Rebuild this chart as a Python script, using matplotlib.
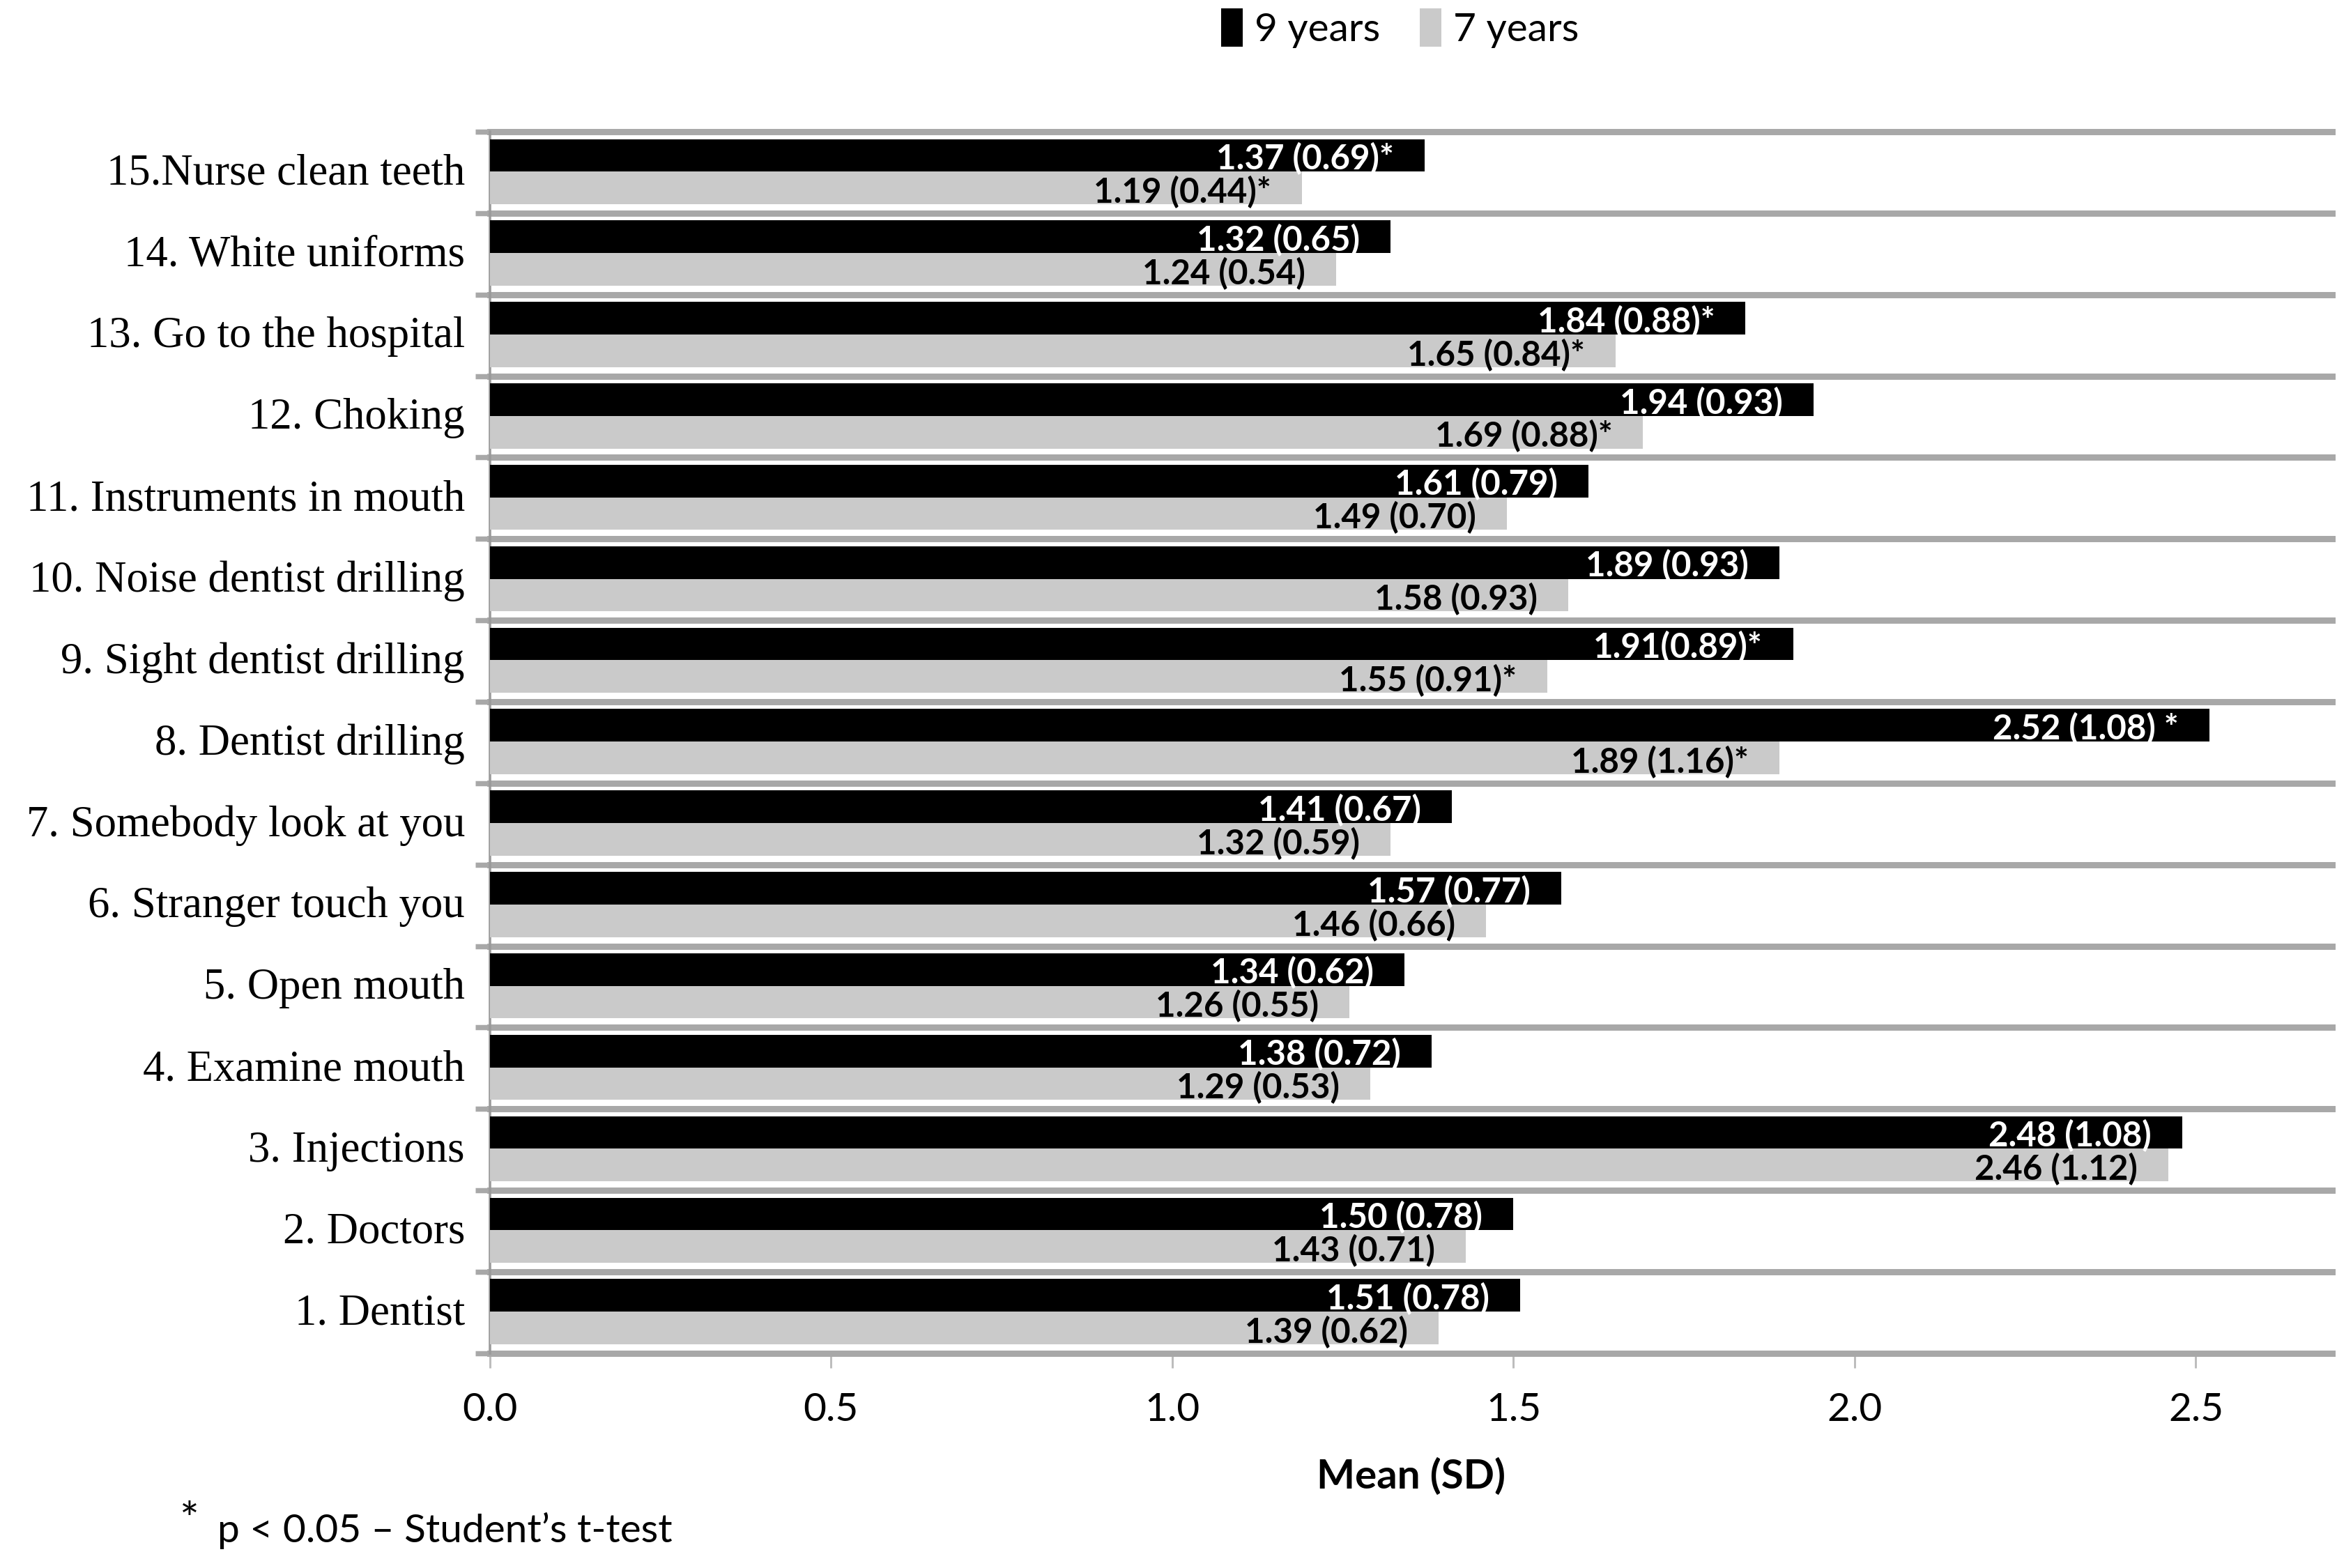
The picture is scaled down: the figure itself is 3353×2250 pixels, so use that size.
import numpy as np
import matplotlib
matplotlib.use("Agg")
import matplotlib.pyplot as plt
from matplotlib.patches import Patch

# data, bottom (1) to top (15)
items = ["1. Dentist", "2. Doctors", "3. Injections", "4. Examine mouth", "5. Open mouth",
         "6. Stranger touch you", "7. Somebody look at you", "8. Dentist drilling",
         "9. Sight dentist drilling", "10. Noise dentist drilling", "11. Instruments in mouth",
         "12. Choking", "13. Go to the hospital", "14. White uniforms", "15.Nurse clean teeth"]
mean_9 = [1.51, 1.50, 2.48, 1.38, 1.34, 1.57, 1.41, 2.52, 1.91, 1.89, 1.61, 1.94, 1.84, 1.32, 1.37]
mean_7 = [1.39, 1.43, 2.46, 1.29, 1.26, 1.46, 1.32, 1.89, 1.55, 1.58, 1.49, 1.69, 1.65, 1.24, 1.19]
label_9 = ["1.51 (0.78)", "1.50 (0.78)", "2.48 (1.08)", "1.38 (0.72)", "1.34 (0.62)",
           "1.57 (0.77)", "1.41 (0.67)", "2.52 (1.08) *", "1.91(0.89)*", "1.89 (0.93)",
           "1.61 (0.79)", "1.94 (0.93)", "1.84 (0.88)*", "1.32 (0.65)", "1.37 (0.69)*"]
label_7 = ["1.39 (0.62)", "1.43 (0.71)", "2.46 (1.12)", "1.29 (0.53)", "1.26 (0.55)",
           "1.46 (0.66)", "1.32 (0.59)", "1.89 (1.16)*", "1.55 (0.91)*", "1.58 (0.93)",
           "1.49 (0.70)", "1.69 (0.88)*", "1.65 (0.84)*", "1.24 (0.54)", "1.19 (0.44)*"]
xticks = [0.0, 0.5, 1.0, 1.5, 2.0, 2.5]

BLACK = "#000000"
LIGHT = "#cacaca"
GRID = "#a8a8a8"

fig = plt.figure(figsize=(3353 / 215, 2250 / 215), dpi=215)
ax = fig.add_axes([0.2096, 0.137, 0.7884, 0.779])

y = np.arange(len(items))
h = 0.4
ax.barh(y + 0.21, mean_9, height=h, color=BLACK, zorder=3)
ax.barh(y - 0.19, mean_7, height=h, color=LIGHT, zorder=3)

# value labels inside the bars
for i in range(len(items)):
    ax.text(mean_9[i] - 0.045, y[i] + 0.17, label_9[i], ha="right", va="center",
            color="white", fontsize=16.5, fontweight="bold", family="Lato", zorder=4)
    ax.text(mean_7[i] - 0.045, y[i] - 0.24, label_7[i], ha="right", va="center",
            color="black", fontsize=16.5, fontweight="bold", family="Lato", zorder=4)

ax.set_xlim(0, 2.7)
ax.set_ylim(-0.5, len(items) - 0.5)

# separators between groups
bounds = np.arange(-0.5, len(items), 1.0)
for b in bounds:
    ax.axhline(b, color=GRID, lw=3.0, zorder=2, clip_on=False)
ax.set_yticks(bounds, minor=True)
ax.tick_params(axis="y", which="minor", length=7, width=2.5, color=GRID, direction="out")
ax.set_yticks(y + 0.04)
ax.set_yticklabels(items, family="Liberation Serif", fontsize=21)
ax.tick_params(axis="y", which="major", length=0, pad=12)

ax.set_xticks(xticks)
ax.set_xticklabels([f"{t:.1f}" for t in xticks], family="Lato", fontsize=19)
ax.tick_params(axis="x", length=7, width=1, color="#bdbdbd", pad=12)

for s in ["top", "right", "bottom"]:
    ax.spines[s].set_visible(False)
ax.spines["left"].set_color("#9a9a9a")
ax.spines["left"].set_linewidth(1.2)

ax.set_xlabel("Mean (SD)", family="Lato", fontsize=19.5, fontweight="bold", labelpad=14)

handles = [Patch(facecolor=BLACK, label="9 years"), Patch(facecolor=LIGHT, label="7 years")]
fig.legend(handles=handles, loc="center", bbox_to_anchor=(0.599, 0.982), ncol=2, frameon=False,
           prop={"family": "Lato", "size": 19}, handlelength=0.55, handleheight=1.1,
           handletextpad=0.3, columnspacing=1.0)

fig.text(0.077, 0.016, "*", family="Lato", fontsize=22, ha="left", va="bottom")
fig.text(0.093, 0.012, "p < 0.05 \u2013 Student\u2019s t-test", family="Lato", fontsize=19,
         ha="left", va="bottom")

fig.savefig("out.png", dpi=215)
